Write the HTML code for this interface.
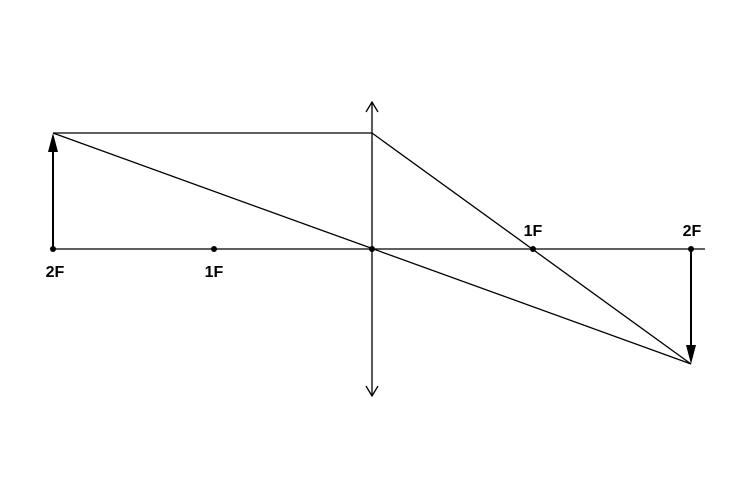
<!DOCTYPE html>
<html><head><style>html,body{margin:0;padding:0;background:#fff}svg{display:block}</style></head><body>
<svg width="750" height="500" xmlns="http://www.w3.org/2000/svg">
<rect width="750" height="500" fill="#fff"/>
<g stroke="#000" stroke-width="1.3" fill="none">
<line x1="53" y1="249" x2="705" y2="249"/>
<line x1="372" y1="102" x2="372" y2="396"/>
<polyline points="366,112 372,102 378,112"/>
<polyline points="366,386 372,396 378,386"/>
<line x1="53" y1="133" x2="372" y2="133"/>
<line x1="372" y1="133" x2="691" y2="364"/>
<line x1="53" y1="133" x2="691" y2="364"/>
<line x1="53" y1="249" x2="53" y2="150" stroke-width="2"/>
<line x1="691" y1="249" x2="691" y2="348" stroke-width="2"/>
</g>
<polygon points="53,133 48,152 58,152" fill="#000"/>
<polygon points="691,364 686,345 696,345" fill="#000"/>
<g fill="#000">
<circle cx="53" cy="249" r="3"/><circle cx="214" cy="249" r="3"/><circle cx="372" cy="249" r="3"/><circle cx="533" cy="249" r="3"/><circle cx="691" cy="249" r="3"/>
</g>
<g font-family="Liberation Sans, sans-serif" font-weight="bold" font-size="16" text-anchor="middle">
<text x="55" y="277">2F</text>
<text x="214" y="277">1F</text>
<text x="533" y="236">1F</text>
<text x="692" y="236">2F</text>
</g>
</svg>
</body></html>
